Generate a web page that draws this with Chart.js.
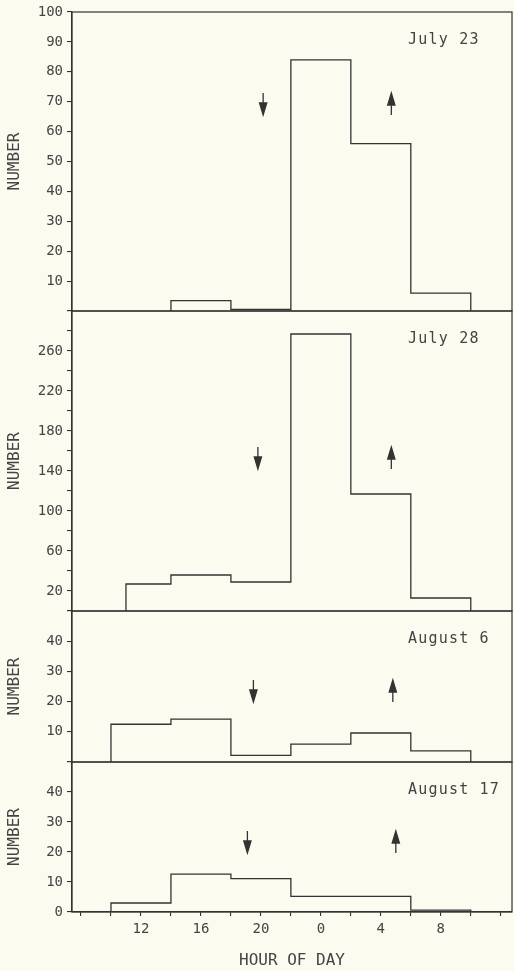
<!DOCTYPE html>
<html>
<head>
<meta charset="utf-8">
<script src="https://cdn.jsdelivr.net/npm/chart.js@4.4.1/dist/chart.umd.min.js"></script>
<style>
  html, body { margin: 0; padding: 0; background: #fcfbef; }
  #wrap { position: relative; width: 514px; height: 971px; overflow: hidden; }
  #wrap canvas { position: absolute; left: 0; }
</style>
</head>
<body>
<div id="wrap">
  <canvas id="p0"></canvas>
  <canvas id="p1"></canvas>
  <canvas id="p2"></canvas>
  <canvas id="p3"></canvas>
</div>
<script>
// hours keep counting past midnight: 24 = 0, 28 = 4, 32 = 8
const panelDates = ['July 23', 'July 28', 'August 6', 'August 17'];

const july23Edges = [14, 18, 22, 26, 30, 34];
const july23Counts = [3.5, 0.5, 84, 56, 6];
const july28Edges = [11, 14, 18, 22, 26, 30, 34];
const july28Counts = [27, 36, 29, 277, 117, 13];
const aug6Edges = [10, 14, 18, 22, 26, 30, 34];
const aug6Counts = [12.5, 14.2, 2.2, 5.9, 9.6, 3.7];
const aug17Edges = [10, 14, 18, 22, 26, 30, 34];
const aug17Counts = [3, 12.6, 11.1, 5.2, 5.2, 0.6];

const sunsetHours = [20.15, 19.8, 19.5, 19.1];
const sunriseHours = [28.7, 28.7, 28.8, 29.0];

const yMax = [100, 300, 50, 50];
const yStep = [10, 20, 10, 10];
const hourTicks = [8, 10, 12, 14, 16, 18, 20, 22, 24, 26, 28, 30, 32, 34, 36];
const hourLabels = [12, 16, 20, 24, 28, 32];

const edges = [july23Edges, july28Edges, aug6Edges, aug17Edges];
const counts = [july23Counts, july28Counts, aug6Counts, aug17Counts];

// layout (pixels)
const panelBox = [[12, 311], [311, 611], [611, 762], [762, 912]];
const arrowTop = [81, 136, 69, 69];
const pad = 20;
const ink = '#333';
const textInk = '#444';

const yLabel = [
  v => v === 0 ? '' : v,
  v => (v % 40 === 20 && v < 300) ? v : '',
  v => (v === 0 || v === 50) ? '' : v,
  v => v === 50 ? '' : v
];

function stepPoints(e, c) {
  const pts = [{x: e[0], y: 0}];
  c.forEach((v, i) => pts.push({x: e[i + 1], y: v}));
  pts.push({x: e[e.length - 1], y: 0});
  return pts;
}

function drawArrow(ctx, x, y, down) {
  const len = 22, head = 12, hw = 3.6;
  ctx.beginPath();
  if (down) {
    ctx.moveTo(x, y); ctx.lineTo(x, y + len - head);
  } else {
    ctx.moveTo(x, y + head); ctx.lineTo(x, y + len);
  }
  ctx.stroke();
  ctx.beginPath();
  if (down) {
    ctx.moveTo(x - hw, y + len - head); ctx.lineTo(x + hw, y + len - head); ctx.lineTo(x, y + len);
  } else {
    ctx.moveTo(x - hw, y + head); ctx.lineTo(x + hw, y + head); ctx.lineTo(x, y);
  }
  ctx.closePath();
  ctx.fill();
  ctx.stroke();
}

const panelDecor = {
  id: 'panelDecor',
  afterDatasetsDraw(chart, args, opts) {
    const {ctx, chartArea: a} = chart;
    const x = chart.scales.x;
    const i = opts.index;
    ctx.save();
    ctx.strokeStyle = ink;
    ctx.fillStyle = ink;
    ctx.lineWidth = 1.2;
    ctx.strokeRect(a.left, a.top, a.right - a.left, a.bottom - a.top);
    ctx.lineWidth = 1.3;
    drawArrow(ctx, x.getPixelForValue(sunsetHours[i]), a.top + arrowTop[i], true);
    drawArrow(ctx, x.getPixelForValue(sunriseHours[i]), a.top + arrowTop[i], false);
    ctx.fillStyle = textInk;
    ctx.font = '15px "DejaVu Sans Mono"';
    ctx.letterSpacing = '1.2px';
    ctx.textBaseline = 'middle';
    ctx.textAlign = 'left';
    ctx.fillText(panelDates[i], a.left + 336, a.top + 28);
    ctx.restore();
  }
};

panelBox.forEach((box, i) => {
  const last = i === panelBox.length - 1;
  const canvas = document.getElementById('p' + i);
  const top = box[0] - pad;
  const height = last ? 971 - top : box[1] - box[0] + 2 * pad;
  canvas.width = 514;
  canvas.height = height;
  canvas.style.top = top + 'px';
  canvas.style.width = '514px';
  canvas.style.height = height + 'px';

  new Chart(canvas.getContext('2d'), {
    type: 'line',
    data: {
      datasets: [{
        data: stepPoints(edges[i], counts[i]),
        stepped: 'after',
        borderColor: ink,
        borderWidth: 1.3,
        pointRadius: 0,
        fill: false
      }]
    },
    options: {
      responsive: false,
      animation: false,
      events: [],
      layout: {padding: {top: pad, bottom: last ? 0 : pad, left: 0, right: 2}},
      plugins: {
        legend: {display: false},
        tooltip: {enabled: false},
        panelDecor: {index: i}
      },
      scales: {
        x: {
          type: 'linear',
          display: last,
          min: 7.4,
          max: 36.75,
          afterBuildTicks: s => { s.ticks = hourTicks.map(v => ({value: v})); },
          afterFit: s => { s.height = last ? 59 : 0; },
          grid: {drawOnChartArea: false, drawTicks: true, tickLength: 4, color: ink, lineWidth: 1.1},
          border: {display: true, color: ink, width: 1.2},
          ticks: {
            padding: 5,
            maxRotation: 0,
            autoSkip: false,
            color: textInk,
            font: {family: '"DejaVu Sans Mono"', size: 14},
            callback: v => hourLabels.includes(v) ? String(v % 24) : ''
          },
          title: {
            display: true,
            text: 'HOUR OF DAY',
            color: textInk,
            font: {family: '"DejaVu Sans Mono"', size: 16},
            padding: {top: 0, bottom: 1}
          }
        },
        y: {
          min: 0,
          max: yMax[i],
          afterFit: s => { s.width = 72; },
          grid: {drawOnChartArea: false, drawTicks: true, tickLength: 5, color: ink, lineWidth: 1.1},
          border: {display: true, color: ink, width: 1.2},
          ticks: {
            stepSize: yStep[i],
            padding: 4,
            autoSkip: false,
            color: textInk,
            font: {family: '"DejaVu Sans Mono"', size: 14},
            callback: yLabel[i]
          },
          title: {
            display: true,
            text: 'NUMBER',
            color: textInk,
            font: {family: '"DejaVu Sans Mono"', size: 16},
            padding: {top: 5, bottom: 0}
          }
        }
      }
    },
    plugins: [panelDecor]
  });
});
</script>
</body>
</html>
